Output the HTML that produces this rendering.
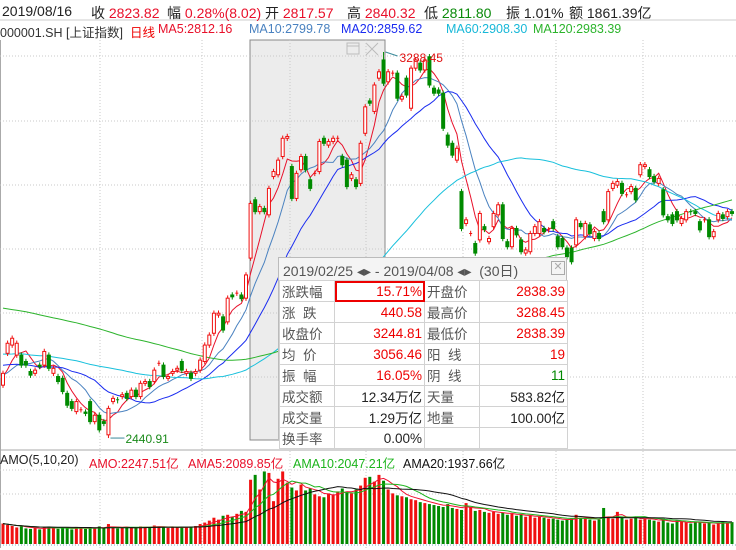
<!DOCTYPE html>
<html><head><meta charset="utf-8">
<style>
body{margin:0;background:#fff;}
#wrap{position:relative;width:736px;height:550px;overflow:hidden;font-family:"Liberation Sans","Noto Sans CJK SC",sans-serif;}
.t{position:absolute;white-space:nowrap;}
.r1{top:3px;font-size:14px;color:#222;}
.r2{top:22px;font-size:12.5px;}
.r3{top:453px;font-size:12.5px;}
.red{color:#e8102a;}
.grn{color:#0a8a0a;}
#pop{position:absolute;left:278px;top:257px;width:289px;height:183px;background:#f4f4f4;border:1px solid #bbb;box-sizing:border-box;font-size:13.5px;}
#pop table{position:absolute;left:0;top:22px;border-collapse:collapse;width:288px;table-layout:fixed;}
#pop td{border:1px solid #d2d2d2;height:19px;padding:0 2px;color:#555;background:#fff;overflow:hidden;white-space:nowrap;}
#pop td.v{text-align:right;color:#e00;}
</style></head>
<body>
<div id="wrap">
<svg id="svg" width="736" height="550" style="position:absolute;left:0;top:0"></svg>

<span class="t r1" style="left:2px">2019/08/16</span>
<span class="t r1" style="left:91px">收 <span class="red">2823.82</span></span>
<span class="t r1" style="left:167px">幅 <span class="red">0.28%(8.02)</span></span>
<span class="t r1" style="left:265px">开 <span class="red">2817.57</span></span>
<span class="t r1" style="left:347px">高 <span class="red">2840.32</span></span>
<span class="t r1" style="left:424px">低 <span class="grn">2811.80</span></span>
<span class="t r1" style="left:506px">振 1.01%</span>
<span class="t r1" style="left:569px">额 1861.39亿</span>

<span class="t r2" style="left:0px;color:#333">000001.SH [上证指数]</span>
<span class="t r2" style="left:130px;color:#e00">日线</span>
<span class="t r2" style="left:158px;color:#e8102a">MA5:2812.16</span>
<span class="t r2" style="left:249px;color:#4a82c0">MA10:2799.78</span>
<span class="t r2" style="left:341px;color:#1a2cf0">MA20:2859.62</span>
<span class="t r2" style="left:446px;color:#18b8d8">MA60:2908.30</span>
<span class="t r2" style="left:533px;color:#2cb42c">MA120:2983.39</span>

<span class="t r3" style="left:0px;color:#222">AMO(5,10,20)</span>
<span class="t r3" style="left:89px;color:#e8102a">AMO:2247.51亿</span>
<span class="t r3" style="left:188px;color:#e8102a">AMA5:2089.85亿</span>
<span class="t r3" style="left:293px;color:#1cb41c">AMA10:2047.21亿</span>
<span class="t r3" style="left:403px;color:#111">AMA20:1937.66亿</span>

<div id="pop">
 <div class="t" style="left:4px;top:3px;font-size:14px;color:#555">2019/02/25 ◂▸ - 2019/04/08 ◂▸ &nbsp;(30日)</div>
 <div class="t" style="left:272px;top:3px;width:12px;height:12px;border:1px solid #aaa;color:#aaa;font-size:11px;line-height:11px;text-align:center">✕</div>
 <table>
  <colgroup><col style="width:55px"><col style="width:90px"><col style="width:55px"><col style="width:88px"></colgroup>
  <tr><td>涨跌幅</td><td class="v" style="outline:2px solid #e00;outline-offset:-2px">15.71%</td><td>开盘价</td><td class="v">2838.39</td></tr>
  <tr><td>涨&nbsp;&nbsp;跌</td><td class="v">440.58</td><td>最高价</td><td class="v">3288.45</td></tr>
  <tr><td>收盘价</td><td class="v">3244.81</td><td>最低价</td><td class="v">2838.39</td></tr>
  <tr><td>均&nbsp;&nbsp;价</td><td class="v">3056.46</td><td>阳&nbsp;&nbsp;线</td><td class="v">19</td></tr>
  <tr><td>振&nbsp;&nbsp;幅</td><td class="v">16.05%</td><td>阴&nbsp;&nbsp;线</td><td class="v" style="color:#080">11</td></tr>
  <tr><td>成交额</td><td class="v" style="color:#222">12.34万亿</td><td>天量</td><td class="v" style="color:#222">583.82亿</td></tr>
  <tr><td>成交量</td><td class="v" style="color:#222">1.29万亿</td><td>地量</td><td class="v" style="color:#222">100.00亿</td></tr>
  <tr><td>换手率</td><td class="v" style="color:#222">0.00%</td><td></td><td></td></tr>
 </table>
</div>
</div>
<script>
const histCloses=[2880,2860,2830,2820,2800,2820,2840,2860,2890,2880,2870,2840,2820,2800,2790,2770,2780,2800,2830,2800,2790,2800,2820,2880,2900,2920,2890,2860,2840,2820,2800,2830,2860,2890,2910,2900,2930,2900,2890,2920,2950,2920,2890,2880,2910,2920,2930,2900,2860,2820,2750,2700,2680,2690,2710,2660,2640,2670,2700,2740,
2650,2660,2640,2600,2620,2660,2680,2650,2630,2640,2670,2680,2660,2640,2620,2600,2630,2650,2660,2640,2610,2580,2570,2600,2650,2640,2650,2660,2670,2680,2650,2640,2630,2620,2640,2650,2660,2640,2620,2600,2610,2630,2650,2640,2620,2600,2610,2630,2640,2610,2600,2590,2580,2570,2580,2590,2570,2560,2575,2590];
const opens=[2557,2627,2645,2623,2623,2609,2587,2583,2601,2601,
2623,2583,2576,2572,2539,2521,2499,2503,2498,2521,
2477,2491,2477,2448,2521,2525,2532,2539,2532,2546,
2532,2561,2565,2565,2605,2601,2572,2583,2590,2609,
2583,2583,2583,2590,2609,2645,2671,2711,2707,2696,
2755,2759,2755,2748,2836,2964,2938,2945,2931,3015,
3019,3059,3099,3037,2967,3030,3059,3008,3022,3026,
3099,3084,3092,3097,3059,3051,3011,3008,3000,3110,
3181,3158,3231,
3271,3223,3242,3242,3185,3231,3165,3253,3264,3249,
3278,3209,3205,3198,3106,3088,3051,2982,2912,2890,
2868,2876,2905,2872,2905,2931,2953,2872,2861,2901,
2876,2847,2850,2890,2890,2901,2898,2916,2883,2879,
2858,2858,2865,2912,2883,2909,2879,2890,2938,2920,
2989,2996,3000,2975,2982,2989,3019,3037,3030,3015,
3000,2986,2927,2931,2938,2912,2920,2938,2938,2916,
2920,2920,2883,2920,2931,2927,2938];
const closes=[2583,2649,2660,2649,2601,2601,2579,2590,2598,2631,
2594,2594,2565,2543,2513,2506,2521,2503,2495,2477,
2491,2459,2473,2506,2528,2523,2536,2528,2546,2532,
2561,2565,2554,2590,2605,2576,2576,2587,2594,2590,
2587,2572,2587,2612,2645,2667,2715,2715,2678,2748,
2751,2759,2747,2799,2956,2938,2949,2938,2989,3026,
3051,3099,3103,2967,3022,3059,3030,2989,3022,3092,
3088,3092,3099,3099,3041,2993,3019,2993,3088,3168,
3176,3216,3245,
3220,3245,3242,3187,3191,3194,3253,3271,3249,3271,
3216,3198,3198,3121,3084,3062,3077,2901,2920,2890,
2847,2934,2899,2879,2934,2953,2879,2861,2901,2887,
2850,2854,2890,2905,2916,2894,2898,2901,2861,2861,
2839,2828,2920,2905,2912,2890,2894,2879,2916,2982,
3000,3004,2978,2975,2993,2964,3041,3041,3015,3004,
3011,2931,2920,2912,2920,2923,2938,2936,2934,2898,
2920,2883,2894,2934,2923,2938,2934];
const highOverride={83:3288.45};
const lowOverride={23:2440.91};
const amounts=[2100,1950,1850,1700,1800,1600,1550,1650,1500,1700,1800,1600,1550,1700,1650,1500,1750,1600,1550,1700,1650,1800,1600,2050,1700,1600,1650,1750,1700,1650,1800,1750,1700,1900,1800,1700,1650,1750,1700,1750,1700,1800,1850,
2050,2200,2400,2700,2500,2900,3000,2800,3100,3400,3300,
6600,7100,5600,7450,7300,4400,6700,7450,
6300,5800,5500,6100,5500,5700,5100,4900,4800,5200,5100,5400,5700,
5400,5200,5600,6000,6800,6900,6400,7100,6500,5600,5200,5000,4900,4800,4600,4500,4300,4200,4100,4000,
3900,3800,4100,3700,3600,3500,4200,3800,3400,3500,3300,3200,3300,3100,3200,3000,3100,2900,3000,2800,2900,2700,2800,2700,2600,
2600,2500,2400,2500,2600,3000,2700,2600,2500,2400,2500,3700,2800,2600,3300,2700,2500,2600,2800,2500,
2600,2500,2400,2300,2600,2200,2100,2400,2300,2200,2100,2300,2200,2100,2200,2000,2100,2300,2200,2247.51];
const maPeriods=[5,10,20,60,120];
const maColors=['#e8102a','#4a82c0','#1a2cf0','#18c0dc','#2cb42c'];
const priceLabels=['3288.45','2440.91'];

const NS='http://www.w3.org/2000/svg';
const svg=document.getElementById('svg');
const X0=3, STEP=4.585;
const xOf=i=>X0+i*STEP;
const yP=p=>52+(3288.45-p)*0.4555;
const yV=a=>544-a/7600*74;
function mk(tag,attrs,parent){const e=document.createElementNS(NS,tag);for(const k in attrs)e.setAttribute(k,attrs[k]);(parent||svg).appendChild(e);return e;}

const defs=mk('defs',{});
const cp=mk('clipPath',{id:'pc'},defs);mk('rect',{x:0,y:40,width:736,height:408},cp);
const cv=mk('clipPath',{id:'vc'},defs);mk('rect',{x:0,y:468,width:736,height:80},cv);

let e=mk('line',{x1:0,y1:20,x2:736,y2:20,stroke:'#ccc'});


e=mk('line',{x1:0,y1:450,x2:736,y2:450,stroke:'#aaa'});


e=mk('line',{x1:0.5,y1:40,x2:0.5,y2:548,stroke:'#aaa'});



e=mk('rect',{x:250,y:40,width:135,height:400,fill:'#ececec',stroke:'#888'});


mk('rect',{x:347,y:43,width:12,height:11,fill:'none',stroke:'#bbb'});
mk('line',{x1:347,y1:46,x2:359,y2:46,stroke:'#bbb'});
mk('path',{d:'M366 43 L378 55 M378 43 L366 55',stroke:'#bbb'});

const gridYs=[56,121,185,249,313,377];
const gridXs=[100,202,290,366,463,556,643];
gridYs.forEach(y=>{const g=mk('line',{x1:0,y1:y,x2:736,y2:y,stroke:'#c8c8c8','stroke-dasharray':'1,2'});

});
[470,494].forEach(y=>{const g=mk('line',{x1:0,y1:y,x2:736,y2:y,stroke:'#c8c8c8','stroke-dasharray':'1,2'});

});
gridXs.forEach(x=>{const g=mk('line',{x1:x,y1:40,x2:x,y2:548,stroke:'#c8c8c8','stroke-dasharray':'1,2'});

});
mk('line',{x1:0,y1:545,x2:736,y2:545,stroke:'#7ab',"stroke-dasharray":'1,2'});

const all=histCloses.concat(closes);
const H=histCloses.length;
maPeriods.forEach((n,k)=>{
  let pts=[];
  for(let i=0;i<closes.length;i++){
    const j=H+i;let s=0,c=0;
    for(let t=Math.max(0,j-n+1);t<=j;t++){s+=all[t];c++;}
    pts.push(xOf(i).toFixed(1)+','+yP(s/c).toFixed(1));
  }
  const l=mk('polyline',{points:pts.join(' '),fill:'none',stroke:maColors[k],'stroke-width':1,'clip-path':'url(#pc)'});
  
  
});

let maxI=0,minI=0,hs=[],ls=[];
for(let i=0;i<closes.length;i++){
  const o=opens[i],c=closes[i];
  const hi=highOverride[i]!==undefined?highOverride[i]:Math.max(o,c)+6;
  const lo=lowOverride[i]!==undefined?lowOverride[i]:Math.min(o,c)-6;
  hs.push(hi);ls.push(lo);
  if(hi>hs[maxI])maxI=i; if(lo<ls[minI])minI=i;
  const up=c>=o; const col=up?'#f01010':'#008a00';
  const x=xOf(i);
  const g=mk('g',{});
  
  
  mk('line',{x1:x,y1:yP(hi),x2:x,y2:yP(lo),stroke:col},g);
  const top=yP(Math.max(o,c)),bot=yP(Math.min(o,c));
  if(bot-top<1){mk('line',{x1:x-1.5,y1:top,x2:x+1.5,y2:top,stroke:col},g);}
  else mk('rect',{x:x-1.5,y:top,width:3,height:bot-top,fill:up?'#fff':col,stroke:col,'stroke-width':1},g);
}
let t=mk('line',{x1:xOf(maxI)+2,y1:yP(hs[maxI]),x2:xOf(maxI)+14,y2:yP(hs[maxI])+4,stroke:'#3a8a9a'});
t=mk('text',{x:xOf(maxI)+16,y:yP(hs[maxI])+10,fill:'#e01010','font-size':12,'font-family':'Liberation Sans'});
t.textContent=priceLabels[0];


mk('line',{x1:xOf(minI)+2,y1:yP(ls[minI]),x2:xOf(minI)+16,y2:yP(ls[minI]),stroke:'#3a8a9a'});
t=mk('text',{x:xOf(minI)+17,y:yP(ls[minI])+5,fill:'#1a8a1a','font-size':12,'font-family':'Liberation Sans'});
t.textContent=priceLabels[1];



for(let i=0;i<amounts.length;i++){
  const up=closes[i]>=opens[i];
  const b=mk('rect',{x:xOf(i)-1.5,y:yV(amounts[i]),width:3,height:544-yV(amounts[i]),fill:up?'#f01010':'#008a00'});
  
  
}
[[5,'#f01030'],[10,'#1cb41c'],[20,'#111']].forEach(([n,col])=>{
  let pts=[];
  for(let i=0;i<amounts.length;i++){let s=0,c=0;for(let t=Math.max(0,i-n+1);t<=i;t++){s+=amounts[t];c++;}pts.push(xOf(i).toFixed(1)+','+yV(s/c).toFixed(1));}
  const l=mk('polyline',{points:pts.join(' '),fill:'none',stroke:col,'stroke-width':1,'clip-path':'url(#vc)'});
  
  
});
</script>
</body></html>
